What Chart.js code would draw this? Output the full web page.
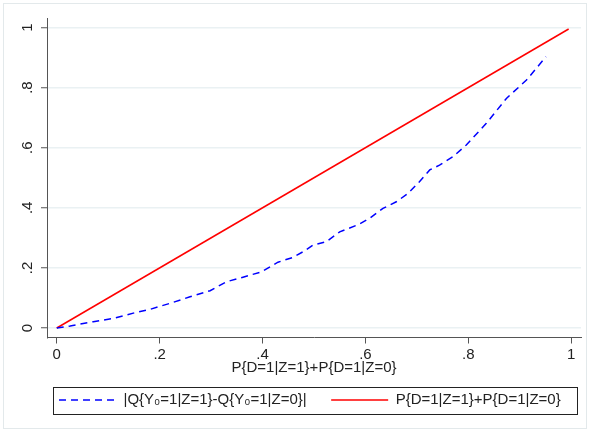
<!DOCTYPE html>
<html>
<head>
<meta charset="utf-8">
<script src="https://cdn.jsdelivr.net/npm/chart.js@4"></script>
<style>
  html, body { margin: 0; padding: 0; background: #fff; }
  canvas { display: block; }
</style>
</head>
<body>
<canvas id="chart1" width="590" height="432"></canvas>
<script>
/*************Data*************/
const blueX = [0, 0.026, 0.071, 0.110, 0.152, 0.181, 0.220, 0.259, 0.298, 0.330, 0.362, 0.398, 0.430, 0.459, 0.479, 0.498,
    0.524, 0.550, 0.586, 0.608, 0.634, 0.660, 0.683, 0.705, 0.725, 0.744, 0.770, 0.796, 0.835, 0.874, 0.913, 0.951];
const blueY = [0, 0.007, 0.021, 0.032, 0.051, 0.062, 0.082, 0.104, 0.124, 0.154, 0.169, 0.187, 0.219, 0.235, 0.254, 0.276,
    0.287, 0.320, 0.344, 0.365, 0.398, 0.420, 0.448, 0.487, 0.526, 0.542, 0.570, 0.609, 0.681, 0.764, 0.825, 0.903];
const redX = [0, 0.995];
const redY = [0, 0.995];

const blueLabel = "|Q{Y\u2080=1|Z=1}-Q{Y\u2080=1|Z=0}|";
const redLabel = "P{D=1|Z=1}+P{D=1|Z=0}";
const xTitle = "P{D=1|Z=1}+P{D=1|Z=0}";

const xTickVals = [0, 0.2, 0.4, 0.6, 0.8, 1];
const xTickLabels = ["0", ".2", ".4", ".6", ".8", "1"];
const yTickVals = [0, 0.2, 0.4, 0.6, 0.8, 1];
const yTickLabels = ["0", ".2", ".4", ".6", ".8", "1"];

function toPoints(xs, ys) {
    return xs.map(function (x, i) { return { x: x, y: ys[i] }; });
}

/*************Chart*************/
Chart.defaults.font.family = '"Liberation Sans", Arial, sans-serif';
Chart.defaults.font.size = 15;
Chart.defaults.color = "#222";

const axisColor = "#555";

// light outer frame + box round the legend
const frames = {
    id: "frames",
    beforeDraw: function (chart) {
        const ctx = chart.ctx;
        ctx.save();
        ctx.fillStyle = "#fff";
        ctx.fillRect(0, 0, chart.width, chart.height);
        ctx.strokeStyle = "#e3e9eb";
        ctx.lineWidth = 1;
        ctx.strokeRect(3.5, 3.5, chart.width - 7, chart.height - 7);
        ctx.restore();
    },
    afterDraw: function (chart) {
        const ctx = chart.ctx;
        const hb = chart.legend.legendHitBoxes[0];
        const cy = hb.top + hb.height / 2;
        const area = chart.chartArea;
        ctx.save();
        ctx.strokeStyle = "#222";
        ctx.lineWidth = 1;
        ctx.strokeRect(Math.round(area.left + 6) + 0.5, Math.round(cy - 13.5) + 0.5,
            Math.round(area.right - area.left - 10), 27);
        ctx.restore();
    }
};

// dashed sample in the legend + a little extra room between the two keys
function legendLabels(chart) {
    const items = Chart.defaults.plugins.legend.labels.generateLabels(chart);
    items.forEach(function (item, i) {
        const ds = chart.data.datasets[item.datasetIndex];
        item.lineDash = ds.borderDash || [];
        item.lineWidth = ds.borderWidth;
        item.strokeStyle = ds.borderColor;
        item.text = item.text + (i === 0 ? "\u00a0\u00a0\u00a0" : "\u00a0\u00a0");
    });
    return items;
}

const lineChart = new Chart(document.getElementById("chart1"), {
    type: "line",
    data: {
        datasets: [
            {
                label: blueLabel,
                data: toPoints(blueX, blueY),
                borderColor: "#0000ff",
                backgroundColor: "#0000ff",
                borderWidth: 1.5,
                borderDash: [7, 5],
                pointRadius: 0,
                fill: false,
                tension: 0
            },
            {
                label: redLabel,
                data: toPoints(redX, redY),
                borderColor: "#ff0000",
                backgroundColor: "#ff0000",
                borderWidth: 1.5,
                pointRadius: 0,
                fill: false,
                tension: 0
            }
        ]
    },
    options: {
        responsive: false,
        animation: false,
        layout: { padding: { left: 0, right: 9, top: 18, bottom: 14.5 } },
        plugins: {
            tooltip: { enabled: false },
            legend: {
                position: "bottom",
                align: "end",
                labels: {
                    usePointStyle: true,
                    pointStyle: "line",
                    pointStyleWidth: 57,
                    padding: 12,
                    color: "#222",
                    font: { size: 15 },
                    generateLabels: legendLabels
                }
            }
        },
        scales: {
            x: {
                type: "linear",
                min: -0.019,
                max: 1.019,
                afterFit: function (scale) { scale.height = 43; },
                afterBuildTicks: function (scale) {
                    scale.ticks = xTickVals.map(function (v) { return { value: v }; });
                },
                ticks: {
                    autoSkip: false,
                    maxRotation: 0,
                    padding: 2,
                    color: "#222",
                    callback: function (value, index) { return xTickLabels[index]; }
                },
                grid: {
                    drawOnChartArea: false,
                    drawTicks: true,
                    tickLength: 6,
                    tickColor: axisColor,
                    tickWidth: 1
                },
                border: { color: axisColor, width: 1 },
                title: {
                    display: true,
                    text: xTitle,
                    color: "#222",
                    font: { size: 15 },
                    padding: { top: 0, bottom: 4 }
                }
            },
            y: {
                type: "linear",
                min: -0.0316,
                max: 1.0316,
                afterFit: function (scale) { scale.width = 47; },
                afterBuildTicks: function (scale) {
                    scale.ticks = yTickVals.map(function (v) { return { value: v }; });
                },
                ticks: {
                    autoSkip: false,
                    minRotation: 90,
                    maxRotation: 90,
                    crossAlign: "center",
                    padding: 7,
                    color: "#222",
                    callback: function (value, index) { return yTickLabels[index]; }
                },
                grid: {
                    color: "#eaf1f3",
                    lineWidth: 1.5,
                    drawTicks: true,
                    tickLength: 6,
                    tickColor: axisColor,
                    tickWidth: 1
                },
                border: { color: axisColor, width: 1 }
            }
        }
    },
    plugins: [frames]
});
</script>
</body>
</html>
